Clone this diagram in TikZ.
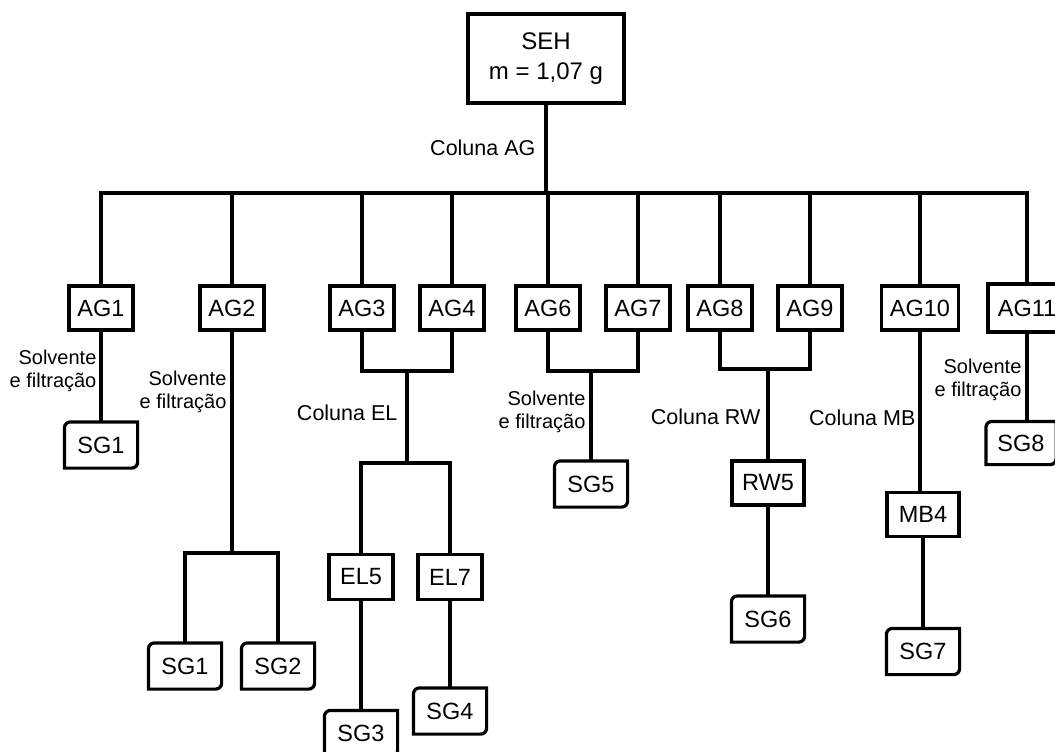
\documentclass[tikz,border=0pt]{standalone}
\usepackage{fontspec}
\setmainfont{Liberation Sans}
\usepackage{tikz}
\usepackage{xcolor}

\begin{document}
\begin{tikzpicture}[x=0.5pt,y=-0.5pt,
  line width=1.6pt,
  agbox/.style={draw,rectangle,inner sep=0pt,minimum width=32pt,minimum height=22pt,font=\fontsize{11.75}{14}\selectfont},
  sgbox/.style={rectangle,inner sep=0pt,minimum width=35pt,minimum height=21.5pt,font=\fontsize{11.75}{14}\selectfont},
  lbl/.style={anchor=east,inner sep=0pt,align=right,font=\fontsize{10.75}{13}\selectfont},
  slv/.style={anchor=east,inner sep=0pt,align=right,font=\fontsize{10}{11.5}\selectfont}]
\useasboundingbox (0,0) rectangle (1055,751);
\node[draw,rectangle,inner sep=0pt,minimum width=78pt,minimum height=44.5pt,align=center,font=\fontsize{12}{15}\selectfont] (seh) at (546,58.5) {SEH\\m = 1,07 g};
\node[agbox] (ag1) at (101,308) {AG1};
\node[agbox] (ag2) at (232,308) {AG2};
\node[agbox] (ag3) at (362,308) {AG3};
\node[agbox] (ag4) at (452,308) {AG4};
\node[agbox] (ag6) at (548,308) {AG6};
\node[agbox] (ag7) at (638,308) {AG7};
\node[agbox] (ag8) at (720,308) {AG8};
\node[agbox] (ag9) at (810,308) {AG9};
\node[agbox,minimum width=38.5pt] (ag10) at (920,308) {AG10};
\node[agbox,minimum width=39pt,minimum height=24pt] (ag11) at (1027,308) {AG11};
\node[agbox,minimum height=22.5pt] (el5) at (361,577) {EL5};
\node[agbox,minimum height=22.5pt] (el7) at (450,577) {EL7};
\node[agbox,minimum width=36pt] (rw5) at (768,483) {RW5};
\node[agbox,minimum width=36pt] (mb4) at (923,514.5) {MB4};
\node[sgbox] (sga) at (101,445) {SG1};
\node[sgbox] (sgb) at (185,666) {SG1};
\node[sgbox] (sgc) at (278,666) {SG2};
\node[sgbox] (sgd) at (361,733.5) {SG3};
\node[sgbox] (sge) at (450,711) {SG4};
\node[sgbox] (sgf) at (591,484) {SG5};
\node[sgbox] (sgg) at (768,619) {SG6};
\node[sgbox] (sgh) at (923,651.5) {SG7};
\node[sgbox,minimum width=33.5pt,minimum height=20pt] (sgi) at (1021,443) {SG8};
\foreach \n in {sga,sgb,sgc,sgd,sge,sgf,sgg,sgh,sgi}
  \draw (\n.north east) -- ([xshift=3pt]\n.north west) arc[start angle=90,end angle=180,radius=3pt]
    -- (\n.south west) -- ([xshift=-3pt]\n.south east) arc[start angle=270,end angle=360,radius=3pt] -- cycle;
\coordinate (bus) at (546,193);
\draw (seh.south) -- (bus);
\draw (ag1.north) -- (ag1.north |- bus) -- (ag11.north |- bus) -- (ag11.north);
\foreach \n in {ag2,ag3,ag4,ag6,ag7,ag8,ag9,ag10}
  \draw (\n.north) -- (\n.north |- bus);
\node[lbl] (colag) at (537,148) {Coluna AG};
\draw (ag1.south) -- (sga.north);
\node[slv] (slva) at (98,371) {Solvente\\e filtração};
\coordinate (jag2) at (232,553);
\draw (ag2.south) -- (jag2);
\draw (sgb.north) |- (jag2) -| (sgc.north);
\node[slv] (slvb) at (228,392) {Solvente\\e filtração};
\coordinate (jel) at (407,371);
\coordinate (sel) at (407,463);
\draw (ag3.south) |- (jel) -| (ag4.south);
\draw (jel) -- (sel);
\draw (el5.north) |- (sel) -| (el7.north);
\node[lbl] (colel) at (399,413) {Coluna EL};
\draw (el5.south) -- (sgd.north);
\draw (el7.south) -- (sge.north);
\coordinate (jsg5) at (591,371);
\draw (ag6.south) |- (jsg5) -| (ag7.south);
\draw (jsg5) -- (sgf.north);
\node[slv] (slvc) at (587,412) {Solvente\\e filtração};
\coordinate (jrw) at (768,369);
\draw (ag8.south) |- (jrw) -| (ag9.south);
\draw (jrw) -- (rw5.north);
\node[lbl] (colrw) at (762,417) {Coluna RW};
\draw (rw5.south) -- (sgg.north);
\draw (ag10.south) -- (ag10.south |- mb4.north);
\node[lbl] (colmb) at (917,418) {Coluna MB};
\draw (mb4.south) -- (sgh.north);
\draw (ag11.south) -- (ag11.south |- sgi.north);
\node[slv] (slvd) at (1023,380) {Solvente\\e filtração};
\end{tikzpicture}
\end{document}
